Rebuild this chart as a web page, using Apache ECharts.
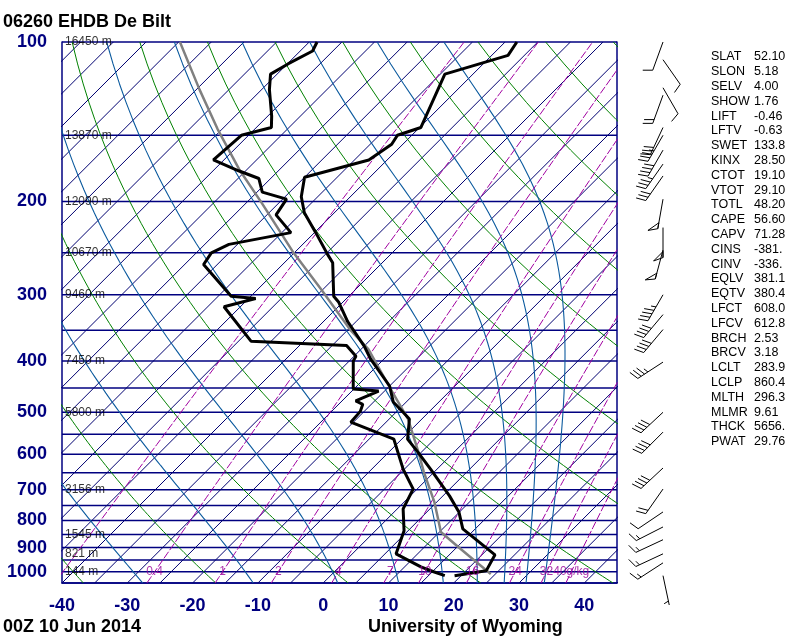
<!DOCTYPE html>
<html>
<head>
<meta charset="utf-8">
<script src="https://cdn.jsdelivr.net/npm/echarts@6/dist/echarts.min.js"></script>
<style>
html,body{margin:0;padding:0;background:#fff;}
#chart{width:800px;height:640px;}
</style>
</head>
<body>
<div id="chart"></div>
<script>
// sounding (hPa, degC)
var tempP = [1017, 996, 929, 830, 771, 719, 640, 594, 562, 515, 500, 478, 446, 397, 375, 337, 310, 302, 261, 252, 229, 210, 196, 180, 167, 156, 150, 145, 115, 106, 100];
var tempT = [19.0, 23.1, 22.0, 13.1, 9.9, 6.0, -1.0, -5.6, -9.1, -11.9, -13.9, -17.0, -20.0, -27.0, -30.0, -36.3, -40.6, -42.3, -47.6, -49.6, -54.8, -59.6, -62.5, -65.0, -57.8, -56.7, -57.2, -54.8, -59.3, -52.5, -53.2];
var dewP = [1017, 1000, 979, 925, 837, 761, 698, 640, 562, 522, 498, 483, 476, 456, 452, 400, 392, 374, 367, 316, 305, 302, 263, 250, 241, 229, 212, 198, 192, 181, 175, 167, 150, 145, 138, 123, 115, 110, 104, 100];
var dewT = [17.5, 15.2, 12.5, 6.7, 4.4, 0.9, -0.6, -5.2, -11.2, -20.4, -20.6, -21.3, -22.9, -20.9, -25.1, -29.4, -29.7, -32.8, -48.1, -57.5, -53.9, -58.0, -67.1, -67.7, -66.3, -58.6, -63.6, -64.4, -69.2, -71.8, -76.1, -81.6, -81.1, -77.7, -79.4, -83.8, -86.0, -84.9, -83.1, -83.8];
var parcelP = [1010, 953, 897, 841, 795, 738, 648, 594, 515, 446, 380, 349, 293, 250, 201, 174, 146, 123, 100];
var parcelT = [24.3, 19.8, 15.1, 10.2, 7.8, 4.6, -1.6, -5.5, -12.1, -20.1, -28.9, -34.7, -45.3, -55.1, -67.7, -76.2, -85.7, -94.5, -104.8];

// wind (hPa, deg, knots)
var windP = [100, 108, 122, 126, 145, 150, 160, 170, 179, 198, 224, 247, 300, 327, 349, 402, 500, 545, 637, 698, 771, 823, 870, 925, 962, 1017];
var windDir = [200, 145, 150, 200, 205, 210, 210, 215, 215, 190, 180, 195, 210, 220, 220, 237, 227, 225, 227, 215, 236, 243, 245, 245, 237, 168];
var windSpd = [10, 10, 10, 20, 30, 35, 40, 35, 30, 50, 50, 50, 45, 40, 40, 35, 40, 40, 40, 20, 10, 15, 15, 15, 15, 5];

// labels
var pressureTicks = [100, 200, 300, 400, 500, 600, 700, 800, 900, 1000];
var heightP = [100, 150, 200, 250, 300, 400, 500, 700, 850, 925, 1000];
var heightLabels = ['16450 m', '13870 m', '12090 m', '10670 m', '9460 m', '7450 m', '5800 m', '3156 m', '1545 m', '821 m', '144 m'];
var mixRatios = [0.1, 0.4, 1, 2, 4, 7, 10, 16, 24, 32, 40];
var mixLabels = ['', '0.4', '1', '2', '4', '7', '10', '16', '24', '32', '40g/kg'];
var indexNames = ['SLAT','SLON','SELV','SHOW','LIFT','LFTV','SWET','KINX','CTOT','VTOT','TOTL','CAPE','CAPV','CINS','CINV','EQLV','EQTV','LFCT','LFCV','BRCH','BRCV','LCLT','LCLP','MLTH','MLMR','THCK','PWAT'];
var indexValues = ['52.10','5.18','4.00','1.76','-0.46','-0.63','133.8','28.50','19.10','29.10','48.20','56.60','71.28','-381.','-336.','381.1','380.4','608.0','612.8','2.53','3.18','283.9','860.4','296.3','9.61','5656.','29.76'];

var SKEW = 35.24; // 45 degree isotherms
var FONT = 'Liberation Sans';

function skewX(t, p){ return t + SKEW * Math.log(1050 / p); }
function satVap(t){ return 6.112 * Math.exp(17.67 * t / (t + 243.5)); }
function thetaE(t, p){
    var tk = t + 273.15, es = satVap(t), r = 0.622 * es / (p - es);
    return tk * Math.pow(1000 / p, 0.2854 * (1 - 0.28 * r)) * Math.exp((3.376 / tk - 0.00254) * r * 1000 * (1 + 0.81 * r));
}
function moistT(the, p){
    var lo = -170, hi = 50;
    while (satVap(hi) > 0.3 * p) hi -= 2;
    for (var k = 0; k < 60; k++){
        var mid = (lo + hi) / 2;
        if (thetaE(mid, p) > the) hi = mid; else lo = mid;
    }
    return (lo + hi) / 2;
}
function dewFromMix(w, p){
    var e = w * p / (622 + w);
    var l = Math.log(e / 6.112);
    return 243.5 * l / (17.67 - l);
}
function levels(step){
    var a = [];
    for (var p = 1050; p >= 100; p -= step) a.push(p);
    if (a[a.length - 1] != 100) a.push(100);
    return a;
}

function bgLine(data, color, width, dash, z, clip){
    return {
        type: 'line', xAxisIndex: 0, yAxisIndex: 0, data: data,
        symbol: 'none', silent: true, clip: clip !== false, z: z,
        lineStyle: { color: color, width: width, type: dash || 'solid' }
    };
}

var series = [];
// isobars
for (var p = 100; p <= 1050; p += 50){
    series.push(bgLine([[-40, p], [45, p]], '#000080', 1.5, null, 1, false));
}
// isotherms every 5 C
for (var t = -160; t <= 45; t += 5){
    series.push(bgLine([[skewX(t, 1050), 1050], [skewX(t, 100), 100]], '#000070', 1, null, 1));
}
// dry adiabats
var lev = levels(10);
for (var th = -40; th <= 180; th += 20){
    series.push(bgLine(lev.map(function(pp){
        var tt = (th + 273.15) * Math.pow(pp / 1000, 0.2857) - 273.15;
        return [skewX(tt, pp), pp];
    }), '#008000', 1, null, 2));
}
// moist adiabats (theta-e)
for (var te = -30; te <= 130; te += 20){
    series.push(bgLine(lev.map(function(pp){
        return [skewX(moistT(te + 273.15, pp), pp), pp];
    }), '#0b5a9e', 1.1, null, 2));
}
// mixing ratio lines
mixRatios.forEach(function(w){
    series.push(bgLine(levels(25).map(function(pp){
        return [skewX(dewFromMix(w, pp), pp), pp];
    }), '#a000a0', 1, [8, 2], 3));
});

// profiles
function profile(P, T){ return P.map(function(pp, i){ return [skewX(T[i], pp), pp]; }); }
series.push(bgLine(profile(parcelP, parcelT), '#808080', 2.5, null, 5));
series.push(bgLine(profile(tempP, tempT), '#000000', 3, null, 6));
series.push(bgLine(profile(dewP, dewT), '#000000', 3, null, 6));

// height labels
series.push({
    type: 'scatter', xAxisIndex: 0, yAxisIndex: 0, symbolSize: 0, silent: true, clip: false, z: 8,
    data: heightP.map(function(pp){ return [-40, pp]; }),
    label: { show: true, position: 'right', distance: 3, color: '#000', fontSize: 12, fontFamily: FONT,
        formatter: function(prm){ return heightLabels[prm.dataIndex]; } }
});
// mixing ratio labels
series.push({
    type: 'scatter', xAxisIndex: 0, yAxisIndex: 0, symbolSize: 0, silent: true, clip: false, z: 8,
    data: mixRatios.map(function(w){ return [skewX(dewFromMix(w, 1000), 1000), 1000]; }),
    label: { show: true, position: 'inside', color: '#990099', fontSize: 12, fontFamily: FONT,
        formatter: function(prm){ return mixLabels[prm.dataIndex]; } }
});

// wind barbs
series.push({
    type: 'custom', xAxisIndex: 1, yAxisIndex: 2, silent: true, z: 8,
    data: windP.map(function(pp, i){ return [0.5, pp, windDir[i], windSpd[i]]; }),
    renderItem: function(params, api){
        var pt = api.coord([api.value(0), api.value(1)]);
        var d = api.value(2) * Math.PI / 180, spd = api.value(3);
        var ux = Math.sin(d), uy = -Math.cos(d);
        var c = Math.cos(70 * Math.PI / 180), s = Math.sin(70 * Math.PI / 180);
        var fx = ux * c - uy * s, fy = ux * s + uy * c;
        var L = 30, st = { stroke: '#000', lineWidth: 1, fill: null };
        var kids = [{ type: 'line', shape: { x1: pt[0], y1: pt[1], x2: pt[0] + ux * L, y2: pt[1] + uy * L }, style: st }];
        var n50 = Math.floor(spd / 50), n10 = Math.floor((spd % 50) / 10), n5 = (spd % 10) >= 5 ? 1 : 0;
        var pos = L;
        for (var i = 0; i < n50; i++){
            var ax = pt[0] + ux * pos, ay = pt[1] + uy * pos;
            kids.push({ type: 'polygon', shape: { points: [[ax, ay], [ax + fx * 10, ay + fy * 10], [ax - ux * 6, ay - uy * 6]] }, style: { stroke: '#000', lineWidth: 1, fill: 'none' } });
            pos -= 8;
        }
        for (var j = 0; j < n10; j++){
            var bx = pt[0] + ux * pos, by = pt[1] + uy * pos;
            kids.push({ type: 'line', shape: { x1: bx, y1: by, x2: bx + fx * 10, y2: by + fy * 10 }, style: st });
            pos -= 4;
        }
        if (n5){
            if (n50 + n10 == 0) pos -= 4;
            var hx = pt[0] + ux * pos, hy = pt[1] + uy * pos;
            kids.push({ type: 'line', shape: { x1: hx, y1: hy, x2: hx + fx * 5, y2: hy + fy * 5 }, style: st });
        }
        return { type: 'group', children: kids };
    }
});

// text on the right and the titles
var graphics = [
    { type: 'text', x: 3, y: 22, style: { text: '06260 EHDB De Bilt', fill: '#000', font: 'bold 18px "' + FONT + '"', verticalAlign: 'middle' } },
    { type: 'text', x: 3, y: 627, style: { text: '00Z 10 Jun 2014', fill: '#000', font: 'bold 18px "' + FONT + '"', verticalAlign: 'middle' } },
    { type: 'text', x: 368, y: 627, style: { text: 'University of Wyoming', fill: '#000', font: 'bold 18px "' + FONT + '"', verticalAlign: 'middle' } }
];
indexNames.forEach(function(n, i){
    graphics.push({ type: 'text', x: 711, y: 57 + i * 14.8, style: { text: n, fill: '#000', font: '12.5px "' + FONT + '"', verticalAlign: 'middle' } });
    graphics.push({ type: 'text', x: 754, y: 57 + i * 14.8, style: { text: indexValues[i], fill: '#000', font: '12.5px "' + FONT + '"', verticalAlign: 'middle' } });
});

var axisText = { color: '#000080', fontSize: 18, fontWeight: 'bold', fontFamily: FONT };
var option = {
    animation: false,
    backgroundColor: '#fff',
    grid: [
        { left: 62, top: 42, width: 555, height: 541 },
        { left: 648, top: 42, width: 30, height: 541 }
    ],
    xAxis: [
        { type: 'value', gridIndex: 0, min: -40, max: 45, interval: 10,
          axisLine: { show: true, onZero: false, lineStyle: { color: '#000080', width: 1.5 } },
          axisTick: { show: false }, splitLine: { show: false },
          axisLabel: Object.assign({ margin: 14, formatter: function(v){ return v > 40 ? '' : String(v); } }, axisText) },
        { type: 'value', gridIndex: 1, min: 0, max: 1, show: false }
    ],
    yAxis: [
        { type: 'log', gridIndex: 0, inverse: true, min: 100, max: 1050,
          axisLine: { show: true, onZero: false, lineStyle: { color: '#000080', width: 1.5 } },
          axisTick: { show: false }, splitLine: { show: false },
          axisLabel: Object.assign({ margin: 15, customValues: pressureTicks,
              formatter: function(v){ return String(Math.round(v)); } }, axisText) },
        { type: 'log', gridIndex: 0, inverse: true, min: 100, max: 1050, position: 'right',
          axisLine: { show: true, onZero: false, lineStyle: { color: '#000080', width: 1.5 } },
          axisTick: { show: false }, splitLine: { show: false }, axisLabel: { show: false } },
        { type: 'log', gridIndex: 1, inverse: true, min: 100, max: 1050, show: false }
    ],
    series: series,
    graphic: graphics
};

var mychart = echarts.init(document.getElementById('chart'));
mychart.setOption(option);
</script>
</body>
</html>
